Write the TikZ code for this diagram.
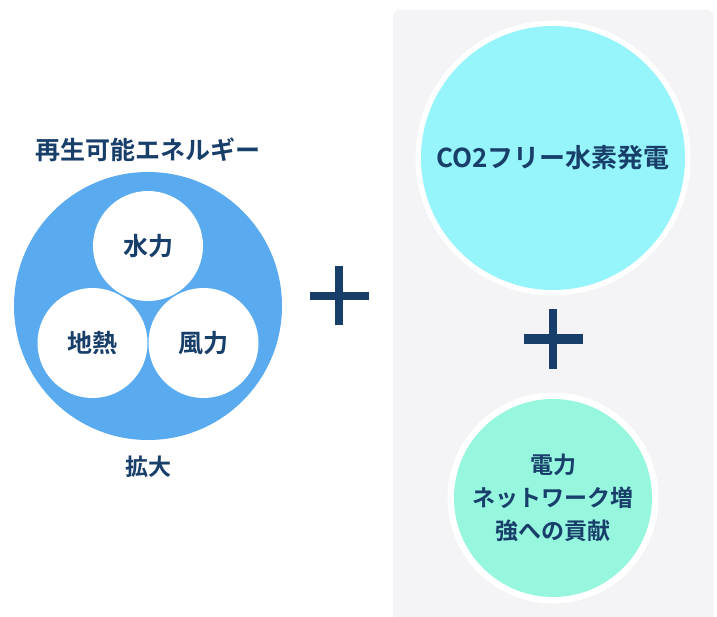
\documentclass[tikz,border=0pt]{standalone}
\usepackage{fontspec}
\usetikzlibrary{calc}
\newfontfamily\cjk{Noto Sans CJK JP}[BoldFont={* Bold}]
\definecolor{navy}{RGB}{24,62,106}
\definecolor{renblue}{RGB}{90,170,240}
\definecolor{cyanc}{RGB}{150,245,250}
\definecolor{mintc}{RGB}{150,246,222}
\definecolor{panel}{RGB}{244,244,246}
\tikzset{
  lbl/.style={font=\cjk\bfseries\fontsize{23}{33}\selectfont, text=navy, align=center},
  wcirc/.style={circle, fill=white, minimum size=110pt, inner sep=0pt},
  plusbar/.style={fill=navy, draw=none},
}
\begin{document}
\begin{tikzpicture}[x=1pt,y=-1pt]
\useasboundingbox (0,0) rectangle (717,617);
\fill[white] (0,0) rectangle (717,617);
% panel
\fill[panel, rounded corners=6pt] (393,10) rectangle (713,630);
% left group
\node[lbl, font=\cjk\bfseries\fontsize{25}{28}\selectfont] (title) at (148,150) {再生可能エネルギー};
\node[circle, fill=renblue, minimum size=268pt, inner sep=0pt] (ren) at (148,306) {};
\node[wcirc, lbl, font=\cjk\bfseries\fontsize{25}{28}\selectfont] (water) at (148,246) {水力};
\node[wcirc, lbl, font=\cjk\bfseries\fontsize{25}{28}\selectfont] (geo) at (92.5,343) {地熱};
\node[wcirc, lbl, font=\cjk\bfseries\fontsize{25}{28}\selectfont] (wind) at (203.5,343) {風力};
\node[lbl, font=\cjk\bfseries\fontsize{23}{26}\selectfont] (expand) at (148,467) {拡大};
% left plus
\coordinate (p1) at (339,296);
\fill[plusbar] ($(p1)+(-29.5,-4)$) rectangle ($(p1)+(29.5,4)$);
\fill[plusbar] ($(p1)+(-4,-29.5)$) rectangle ($(p1)+(4,29.5)$);
% right group
\node[circle, fill=white, minimum size=275pt, inner sep=0pt] (h2ring) at (553,158) {};
\node[circle, fill=cyanc, minimum size=264pt, inner sep=0pt, lbl, font=\cjk\bfseries\fontsize{26}{30}\selectfont] (h2) at (553,158) {CO2フリー水素発電};
\coordinate (p2) at (553,339);
\fill[plusbar] ($(p2)+(-29.5,-4.5)$) rectangle ($(p2)+(29.5,4.5)$);
\fill[plusbar] ($(p2)+(-4,-29.5)$) rectangle ($(p2)+(4,29.5)$);
\node[circle, fill=white, minimum size=211pt, inner sep=0pt] (netring) at (553,498) {};
\node[circle, fill=mintc, minimum size=198pt, inner sep=0pt, lbl] (net) at (553,498) {電力\\ネットワーク増\\強への貢献};
\end{tikzpicture}
\end{document}
